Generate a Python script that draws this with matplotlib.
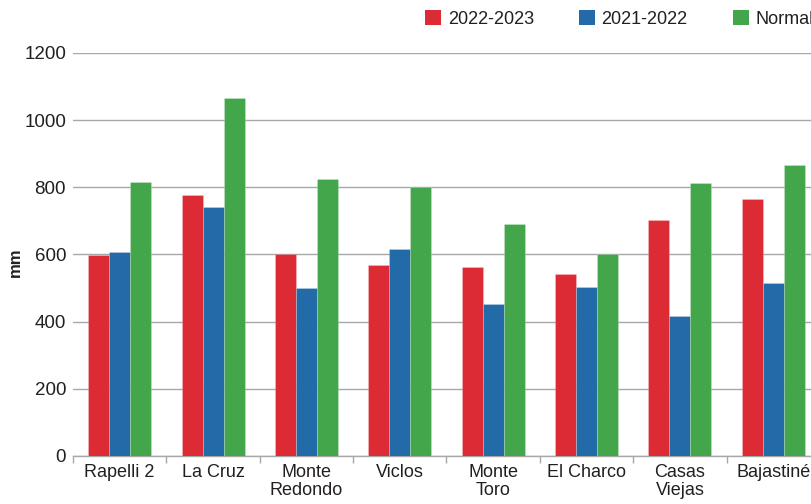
import matplotlib
matplotlib.use("Agg")
import matplotlib.pyplot as plt
import numpy as np
from matplotlib.patches import Patch

plt.rcParams["font.family"] = ["Liberation Sans", "DejaVu Sans"]

stations = ["Rapelli 2", "La Cruz", "Monte\nRedondo", "Viclos", "Monte\nToro",
            "El Charco", "Casas\nViejas", "Bajastiné"]
season_2022_2023 = [598, 778, 602, 568, 564, 543, 702, 766]
season_2021_2022 = [607, 742, 501, 616, 454, 504, 416, 516]
normal = [817, 1066, 825, 800, 690, 601, 813, 866]

series_labels = ["2022-2023", "2021-2022", "Normal"]
colors = ["#dc2b35", "#226aa8", "#43a64a"]
y_ticks = [0, 200, 400, 600, 800, 1000, 1200]

text_color = "#231f20"
grid_color = "#a8a8a8"

fig = plt.figure(figsize=(8.12, 5.04), dpi=100)
# axes run slightly past the right edge, like the cropped original
ax = fig.add_axes([73 / 812, 1 - 456 / 504, 747 / 812, 403 / 504])

x = np.arange(len(stations))
width = 0.225
for i, (vals, col) in enumerate(zip([season_2022_2023, season_2021_2022, normal], colors)):
    ax.bar(x + (i - 1) * width, vals, width, color=col,
           edgecolor=(1, 1, 1, 0.3), linewidth=0.5, zorder=3)

ax.set_xlim(-0.5, len(stations) - 0.5)
ax.set_ylim(0, 1200)
ax.set_yticks(y_ticks)
ax.set_yticklabels([str(v) for v in y_ticks])
ax.tick_params(axis="y", length=0, pad=5, labelsize=13.5, labelcolor=text_color)

ax.set_xticks(x)
ax.set_xticklabels(stations, linespacing=1.05)
ax.tick_params(axis="x", which="major", length=0, pad=6, labelsize=13, labelcolor=text_color)
ax.set_xticks(np.arange(len(stations) + 1) - 0.5, minor=True)
ax.tick_params(axis="x", which="minor", length=5, width=1, color=grid_color)

ax.yaxis.grid(True, color=grid_color, linewidth=1, zorder=0)
ax.set_axisbelow(True)
for side in ["left", "right", "top"]:
    ax.spines[side].set_visible(False)
ax.spines["bottom"].set_color(grid_color)
ax.spines["bottom"].set_linewidth(1)

fig.text(15 / 812, 1 - 262 / 504, "mm", rotation=90, fontsize=12, fontweight="bold",
         color=text_color, ha="center", va="center")

handles = [Patch(facecolor=c, edgecolor="none") for c in colors]
fig.legend(handles, series_labels, loc="center left", bbox_to_anchor=(418 / 812, 1 - 19 / 504),
           ncol=3, frameon=False, fontsize=13, handlelength=0.9, handleheight=0.9,
           handletextpad=0.35, columnspacing=2.5, labelcolor=text_color, borderaxespad=0)

fig.savefig("out.png", dpi=100)
